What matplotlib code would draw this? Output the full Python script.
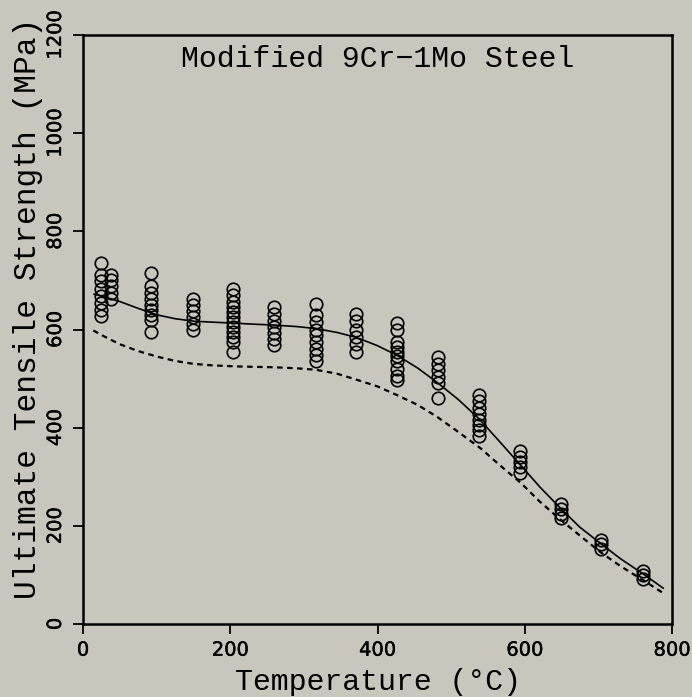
import matplotlib
matplotlib.use("Agg")
import matplotlib.pyplot as plt
import matplotlib.patheffects as pe
import numpy as np

# ---- data ----
temps = [24, 38, 93, 149, 204, 260, 316, 371, 427, 482, 538, 593, 649, 704, 760]
uts_24 = [735, 712, 698, 682, 668, 655, 640, 628]
uts_38 = [711, 700, 688, 675, 662]
uts_93 = [715, 688, 675, 662, 650, 640, 630, 620, 595]
uts_149 = [663, 650, 638, 625, 612, 600]
uts_204 = [682, 670, 657, 645, 635, 625, 615, 605, 595, 585, 575, 555]
uts_260 = [645, 632, 618, 605, 592, 580, 568]
uts_316 = [652, 630, 615, 600, 588, 575, 560, 548, 535]
uts_371 = [632, 618, 600, 585, 570, 555]
uts_427 = [613, 600, 575, 565, 555, 545, 535, 520, 505, 497]
uts_482 = [544, 530, 517, 503, 490, 460]
uts_538 = [466, 455, 440, 428, 415, 405, 395, 383]
uts_593 = [352, 340, 330, 320, 307]
uts_649 = [245, 235, 225, 215]
uts_704 = [172, 162, 152]
uts_760 = [108, 100, 92]
uts_groups = [uts_24, uts_38, uts_93, uts_149, uts_204, uts_260, uts_316, uts_371,
              uts_427, uts_482, uts_538, uts_593, uts_649, uts_704, uts_760]

# average (solid) curve
avg_T = [15, 30, 50, 75, 100, 125, 150, 175, 204, 230, 260, 290, 316, 345, 371, 400,
         427, 455, 482, 510, 538, 565, 593, 620, 649, 675, 704, 730, 760, 788]
avg_S = [672, 666, 657, 643, 630, 622, 617, 615, 613, 611, 609, 606, 602, 594, 584, 567,
         547, 521, 491, 457, 418, 373, 326, 280, 235, 197, 163, 133, 103, 73]
# minimum (dashed) curve
min_T = [14, 30, 50, 75, 100, 125, 150, 175, 204, 230, 260, 290, 316, 345, 371, 400,
         427, 455, 482, 510, 540, 565, 595, 620, 649, 675, 704, 730, 762, 788]
min_S = [598, 585, 570, 556, 545, 536, 530, 527, 525, 524, 523, 521, 518, 510, 498, 484,
         466, 446, 421, 391, 358, 325, 287, 250, 212, 180, 145, 118, 88, 63]

x_ticks = [0, 200, 400, 600, 800]
y_ticks = [0, 200, 400, 600, 800, 1000, 1200]
title_text = "Modified 9Cr\u22121Mo Steel"
x_label = "Temperature (\u00b0C)"
y_label = "Ultimate Tensile Strength (MPa)"

# ---- figure ----
W, H = 692, 697
bg = "#c9c7bd"
fig = plt.figure(figsize=(W / 100, H / 100), dpi=100, facecolor=bg)
ax = fig.add_axes([83 / W, 1 - 624 / H, (672 - 83) / W, (624 - 35) / H], facecolor=bg)

px, py = [], []
for t, grp in zip(temps, uts_groups):
    px += [t] * len(grp)
    py += grp
ax.plot(px, py, linestyle="none", marker="o", markersize=9,
        markerfacecolor="none", markeredgecolor="black", markeredgewidth=1.2, zorder=3)
ax.plot(avg_T, avg_S, color="black", lw=1.2, zorder=2)
ax.plot(min_T, min_S, color="black", lw=1.6, dashes=(2.5, 2.0), zorder=2)

ax.set_xlim(0, 800)
ax.set_ylim(0, 1200)
ax.set_xticks(x_ticks)
ax.set_yticks(y_ticks)
ax.tick_params(direction="out", length=7, width=1.3, colors="black")
ax.tick_params(axis="x", pad=5, labelsize=14)
ax.tick_params(axis="y", pad=6, labelsize=14)
thin = [pe.withStroke(linewidth=0.3, foreground="black")]
for lab in ax.get_yticklabels():
    lab.set_rotation(90)
    lab.set_va("center")
    lab.set_ha("right")
for lab in ax.get_xticklabels() + ax.get_yticklabels():
    lab.set_family("DejaVu Sans")
    lab.set_path_effects(thin)
for s in ax.spines.values():
    s.set_linewidth(1.8)
    s.set_color("black")

mono = ["Liberation Mono", "DejaVu Sans Mono"]
ax.text(0.5, (624 - 67) / 589, title_text, transform=ax.transAxes, ha="center",
        va="baseline", fontsize=21.5, family=mono)
fig.text(378 / W, 1 - 690 / H, x_label, ha="center", va="baseline", fontsize=21.5,
         family=mono)
fig.text(28 / W, 1 - 308 / H, y_label, ha="center", va="center", rotation=90,
         fontsize=22.5, family=mono)

fig.savefig("out.png", dpi=100, facecolor=bg)
